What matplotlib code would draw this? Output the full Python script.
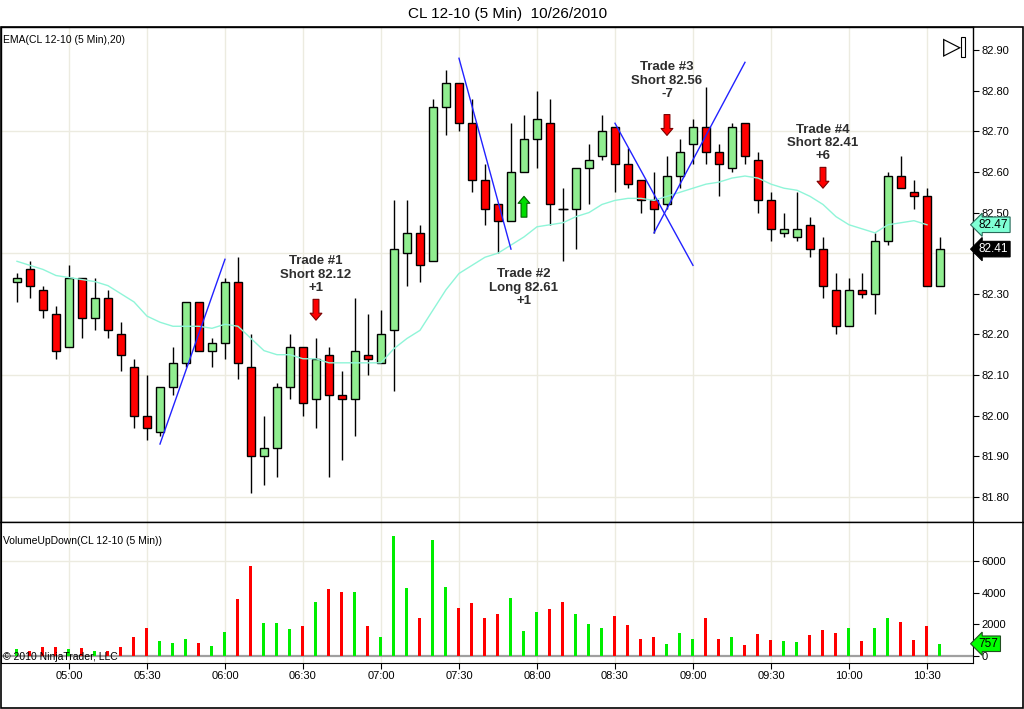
import numpy as np
import pandas as pd
import matplotlib
matplotlib.use('Agg')
import matplotlib.pyplot as plt
from matplotlib.patches import Rectangle
from matplotlib.lines import Line2D
import matplotlib.transforms as mtransforms

plt.rcParams['font.family'] = ['Liberation Sans', 'DejaVu Sans']

# 5 min bars, CL 12-10, 10/26/2010, 04:40 .. 10:35
times = pd.date_range('2010-10-26 04:40', periods=72, freq='5min')

opens = [82.33, 82.36, 82.31, 82.25, 82.17, 82.34, 82.24, 82.29, 82.20, 82.12,
         82.00, 81.96, 82.07, 82.13, 82.28, 82.16, 82.18, 82.33, 82.12, 81.90,
         81.92, 82.07, 82.17, 82.04, 82.15, 82.05, 82.04, 82.15, 82.13, 82.21,
         82.40, 82.45, 82.38, 82.76, 82.82, 82.72, 82.58, 82.52, 82.48, 82.60,
         82.68, 82.72, 82.51, 82.51, 82.61, 82.64, 82.71, 82.62, 82.58, 82.53,
         82.52, 82.59, 82.67, 82.71, 82.65, 82.61, 82.72, 82.63, 82.53, 82.45,
         82.44, 82.47, 82.41, 82.31, 82.22, 82.31, 82.30, 82.43, 82.59, 82.55,
         82.54, 82.32]
highs = [82.35, 82.38, 82.32, 82.27, 82.37, 82.34, 82.34, 82.31, 82.23, 82.14,
         82.10, 82.07, 82.17, 82.28, 82.28, 82.19, 82.34, 82.39, 82.20, 82.00,
         82.08, 82.20, 82.17, 82.19, 82.17, 82.11, 82.29, 82.25, 82.26, 82.53,
         82.53, 82.47, 82.78, 82.85, 82.82, 82.78, 82.62, 82.52, 82.72, 82.74,
         82.80, 82.78, 82.56, 82.61, 82.67, 82.74, 82.71, 82.66, 82.58, 82.60,
         82.64, 82.68, 82.73, 82.81, 82.67, 82.72, 82.72, 82.65, 82.55, 82.50,
         82.55, 82.49, 82.44, 82.35, 82.34, 82.35, 82.45, 82.60, 82.64, 82.58,
         82.56, 82.44]
lows = [82.28, 82.29, 82.24, 82.14, 82.17, 82.19, 82.21, 82.19, 82.11, 81.97,
        81.94, 81.95, 82.05, 82.12, 82.16, 82.12, 82.14, 82.09, 81.81, 81.83,
        81.85, 82.04, 82.00, 81.97, 81.85, 81.89, 81.95, 82.10, 82.13, 82.06,
        82.32, 82.33, 82.38, 82.69, 82.70, 82.55, 82.47, 82.40, 82.48, 82.60,
        82.61, 82.47, 82.38, 82.41, 82.52, 82.63, 82.55, 82.56, 82.50, 82.45,
        82.51, 82.56, 82.62, 82.62, 82.54, 82.60, 82.62, 82.50, 82.43, 82.44,
        82.43, 82.39, 82.29, 82.20, 82.22, 82.29, 82.25, 82.42, 82.56, 82.51,
        82.32, 82.32]
closes = [82.34, 82.32, 82.26, 82.16, 82.34, 82.24, 82.29, 82.21, 82.15, 82.00,
          81.97, 82.07, 82.13, 82.28, 82.16, 82.18, 82.33, 82.13, 81.90, 81.92,
          82.07, 82.17, 82.03, 82.14, 82.05, 82.04, 82.16, 82.14, 82.20, 82.41,
          82.45, 82.37, 82.76, 82.82, 82.72, 82.58, 82.51, 82.48, 82.60, 82.68,
          82.73, 82.52, 82.51, 82.61, 82.63, 82.70, 82.62, 82.57, 82.53, 82.51,
          82.59, 82.65, 82.71, 82.65, 82.62, 82.71, 82.64, 82.53, 82.46, 82.46,
          82.46, 82.41, 82.32, 82.22, 82.31, 82.30, 82.43, 82.59, 82.56, 82.54,
          82.32, 82.41]
volumes = [420, 300, 550, 550, 420, 490, 300, 300, 550, 1180,
           1750, 930, 800, 1060, 800, 610, 1500, 3590, 5680, 2070,
           2070, 1690, 1880, 3400, 4220, 4030, 4030, 1880, 1180, 7580,
           4290, 2390, 7330, 4350, 3020, 3340, 2390, 2640, 3650, 1560,
           2770, 2960, 3400, 2640, 2010, 1750, 2510, 1940, 1060, 1180,
           740, 1440, 1060, 2390, 1060, 1180, 680, 1370, 990, 930,
           870, 1310, 1630, 1440, 1750, 930, 1750, 2390, 2130, 990,
           1880, 757]
# EMA(20) as drawn (last bar not plotted)
ema20 = [82.38, 82.37, 82.36, 82.345, 82.34, 82.335, 82.33, 82.32, 82.30, 82.28,
         82.245, 82.23, 82.22, 82.22, 82.22, 82.215, 82.225, 82.22, 82.19, 82.16,
         82.15, 82.15, 82.14, 82.14, 82.13, 82.13, 82.13, 82.13, 82.13, 82.165,
         82.19, 82.21, 82.26, 82.31, 82.35, 82.37, 82.39, 82.40, 82.42, 82.44,
         82.465, 82.47, 82.475, 82.49, 82.50, 82.52, 82.53, 82.535, 82.535, 82.53,
         82.54, 82.55, 82.56, 82.57, 82.575, 82.585, 82.59, 82.585, 82.57, 82.56,
         82.555, 82.54, 82.52, 82.49, 82.47, 82.46, 82.45, 82.47, 82.475, 82.48,
         82.47]

# drawn trend lines (bar index, price)
trend_lines = [((11, 81.93), (16, 82.385)),
               ((34, 82.88), (38, 82.41)),
               ((46, 82.72), (52, 82.37)),
               ((49, 82.45), (56, 82.87))]

# trade markers
trade_names = ['Trade #1\nShort 82.12\n+1', 'Trade #2\nLong 82.61\n+1',
               'Trade #3\nShort 82.56\n-7', 'Trade #4\nShort 82.41\n+6']
arrow_bar = [23, 39, 50, 62]
arrow_tip = [82.235, 82.54, 82.69, 82.56]
arrow_dir = [-1, 1, -1, -1]
label_bar = [23, 39, 50, 62]
label_y = [82.299, 82.363, 82.777, 82.624]
label_va = ['bottom', 'top', 'bottom', 'bottom']

price_ticks = np.round(np.arange(81.80, 82.91, 0.10), 2)
price_grid = [81.80, 82.10, 82.40, 82.70]
vol_ticks = [0, 2000, 4000, 6000]
vol_grid = [6000]

W, H = 1024, 709
fig = plt.figure(figsize=(W / 100, H / 100), dpi=100)
ax = fig.add_axes([1 / W, 1 - 522 / H, 972 / W, (522 - 27) / H])
ax2 = fig.add_axes([1 / W, 1 - 663 / H, 972 / W, (663 - 522) / H])

x = np.arange(len(times))
o = np.array(opens); c = np.array(closes)
hi = np.array(highs); lo = np.array(lows)
up = c > o
grid_col = '#ecebe0'

tick_idx = [i for i, t in enumerate(times) if t.minute % 30 == 0]
tick_lab = [times[i].strftime('%H:%M') for i in tick_idx]

for a in (ax, ax2):
    for i in tick_idx:
        a.axvline(i, color=grid_col, lw=1, zorder=0)
for g in price_grid:
    ax.axhline(g, color=grid_col, lw=1, zorder=0)
for g in vol_grid:
    ax2.axhline(g, color=grid_col, lw=1, zorder=0)

# candles
ax.vlines(x, lo, hi, color='black', lw=1, zorder=2)
body_col = np.where(up, '#90ee90', '#ff0000')
ax.bar(x, np.abs(c - o), bottom=np.minimum(o, c), width=0.66,
       color=body_col, edgecolor='black', linewidth=1, zorder=3)
for i in x[c == o]:
    ax.hlines(c[i], i - 0.4, i + 0.4, color='black', lw=1, zorder=3)

# EMA
ax.plot(x[:len(ema20)], ema20, color='#8ff5d8', lw=1, zorder=4)

for (x0, y0), (x1, y1) in trend_lines:
    ax.plot([x0, x1], [y0, y1], color='#2222ff', lw=1, zorder=5)

for xi, tip, d in zip(arrow_bar, arrow_tip, arrow_dir):
    fc = '#ff0000' if d < 0 else '#00dd00'
    ec = '#7a0000' if d < 0 else '#006000'
    ax.annotate('', xy=(xi, tip), xytext=(0, -d * 15), textcoords='offset points',
                arrowprops=dict(arrowstyle='simple,head_length=0.5,head_width=0.85,tail_width=0.42',
                                fc=fc, ec=ec, lw=0.8, shrinkA=0, shrinkB=0,
                                mutation_scale=10), zorder=6)

for name, xb, yb, va in zip(trade_names, label_bar, label_y, label_va):
    ax.text(xb, yb, name, ha='center', va=va, fontsize=9.5, fontweight='bold',
            color='#2e2e2e', linespacing=1.15, zorder=7)

ax.set_xlim(-1.23, 73.54)
ax.set_ylim(81.738, 82.957)
ax.set_xticks(tick_idx)
ax.tick_params(axis='x', bottom=False, labelbottom=False)
ax.yaxis.tick_right()
ax.set_yticks(price_ticks)
ax.set_yticklabels(['%.2f' % p for p in price_ticks])
ax.tick_params(axis='y', direction='out', length=4, width=0.8, labelsize=8, pad=2)
for s in ax.spines.values():
    s.set_linewidth(1)

# volume
vcol = np.where(up, '#00ee00', '#ff0000')
ax2.bar(x, volumes, width=0.23, color=vcol, zorder=3)
ax2.axhline(0, color='#a0a0a0', lw=1.6, zorder=2)
ax2.set_xlim(-1.23, 73.54)
ax2.set_ylim(-463, 8473)
ax2.set_xticks(tick_idx)
ax2.set_xticklabels(tick_lab)
ax2.yaxis.tick_right()
ax2.set_yticks(vol_ticks)
ax2.set_yticklabels([str(v) for v in vol_ticks])
ax2.tick_params(axis='both', direction='out', length=4, width=0.8, labelsize=8, pad=2)
ax2.spines['top'].set_visible(False)

# last value tags
tr = mtransforms.blended_transform_factory(ax.transAxes, ax.transData)
ax.text(1.006, ema20[-1], '%.2f' % ema20[-1], transform=tr, ha='left', va='center',
        fontsize=8.5, color='black', zorder=8, clip_on=False,
        bbox=dict(boxstyle='larrow,pad=0.15', fc='#7fffd4', ec='#2a6a5a', lw=0.8))
ax.text(1.006, closes[-1], '%.2f' % closes[-1], transform=tr, ha='left', va='center',
        fontsize=8.5, color='white', zorder=8, clip_on=False,
        bbox=dict(boxstyle='larrow,pad=0.15', fc='black', ec='black', lw=0.8))
tr2 = mtransforms.blended_transform_factory(ax2.transAxes, ax2.transData)
ax2.text(1.006, volumes[-1], str(volumes[-1]), transform=tr2, ha='left', va='center',
         fontsize=8.5, color='black', zorder=8, clip_on=False,
         bbox=dict(boxstyle='larrow,pad=0.15', fc='#00ff00', ec='#205020', lw=0.8))

# frame, separator, texts
fig.add_artist(Rectangle((0.5 / W, 1 - 707.5 / H), 1022.5 / W, (707.5 - 27) / H,
                         transform=fig.transFigure, fill=False, ec='black', lw=1.2))
fig.add_artist(Line2D([0, 1], [1 - 522 / H, 1 - 522 / H], transform=fig.transFigure,
                      color='black', lw=1))
fig.text(508 / W, 1 - 14 / H, 'CL 12-10 (5 Min)  10/26/2010', ha='center', va='center',
         fontsize=11)
fig.text(3 / W, 1 - 40 / H, 'EMA(CL 12-10 (5 Min),20)', ha='left', va='center', fontsize=7.5)
fig.text(3 / W, 1 - 541 / H, 'VolumeUpDown(CL 12-10 (5 Min))', ha='left', va='center',
         fontsize=7.5)
fig.text(3 / W, 1 - 657 / H, '\u00a9 2010 NinjaTrader, LLC', ha='left', va='center',
         fontsize=7.5, zorder=10)

# "go to end" button
fig.text(952 / W, 1 - 47 / H, '\u25b7', ha='center', va='center', fontsize=17,
         family='DejaVu Sans')
fig.add_artist(Rectangle((961 / W, 1 - 57 / H), 4 / W, 20 / H, transform=fig.transFigure,
                         fill=False, ec='black', lw=0.8))

fig.savefig('out.png', dpi=100)
